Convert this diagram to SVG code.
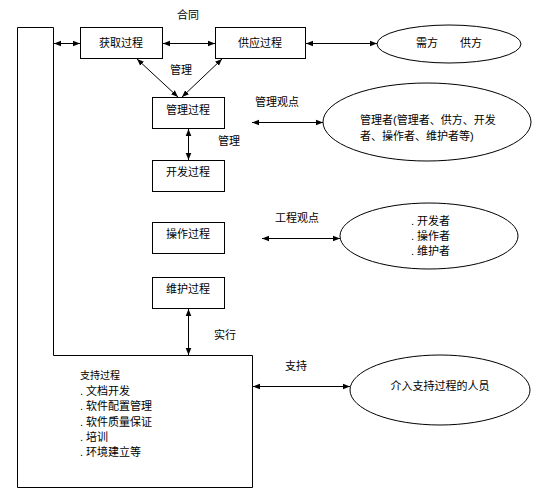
<svg xmlns="http://www.w3.org/2000/svg" width="551" height="496" viewBox="0 0 551 496">
<defs>
<marker id="ah" viewBox="0 0 10 10" refX="10" refY="5" markerWidth="7" markerHeight="7" orient="auto-start-reverse" markerUnits="userSpaceOnUse">
<path d="M0,1 L10,5 L0,9 Z" fill="#000"/>
</marker>
</defs>
<style>
.box{fill:#fff;stroke:#000;stroke-width:1}
.t{font-family:"Liberation Sans","Noto Sans CJK SC",sans-serif;font-size:11px;fill:#000}
.s{font-size:10px}
.c{stroke:#000;stroke-width:1;fill:none;marker-start:url(#ah);marker-end:url(#ah)}
</style>
<rect width="551" height="496" fill="#fff"/>
<g id="support">
<path class="box" d="M17.5,27.5 H53.5 V355.5 H252.5 V487.5 H17.5 Z"/>
<text class="t s" x="80" y="379">支持过程</text>
<text class="t" x="80" y="395">. 文档开发</text>
<text class="t" x="80" y="410">. 软件配置管理</text>
<text class="t" x="80" y="426">. 软件质量保证</text>
<text class="t" x="80" y="441">. 培训</text>
<text class="t" x="80" y="456">. 环境建立等</text>
</g>
<g id="acquire">
<rect class="box" x="80.5" y="27.5" width="82" height="31"/>
<text class="t" x="121" y="47" text-anchor="middle">获取过程</text>
</g>
<g id="supply">
<rect class="box" x="215.5" y="27.5" width="90" height="31"/>
<text class="t" x="260" y="47" text-anchor="middle">供应过程</text>
</g>
<g id="parties">
<ellipse class="box" cx="449" cy="44" rx="72" ry="19"/>
<text class="t" x="449" y="47" text-anchor="middle">需方　　供方</text>
</g>
<g id="manage">
<rect class="box" x="152.5" y="97.5" width="72" height="31"/>
<text class="t" x="188" y="114" text-anchor="middle">管理过程</text>
</g>
<g id="develop">
<rect class="box" x="152.5" y="160.5" width="72" height="31"/>
<text class="t" x="188" y="176" text-anchor="middle">开发过程</text>
</g>
<g id="operate">
<rect class="box" x="152.5" y="222.5" width="72" height="31"/>
<text class="t" x="188" y="238" text-anchor="middle">操作过程</text>
</g>
<g id="maintain">
<rect class="box" x="152.5" y="277.5" width="72" height="31"/>
<text class="t" x="188" y="293" text-anchor="middle">维护过程</text>
</g>
<g id="managers">
<ellipse class="box" cx="427" cy="122" rx="104" ry="39"/>
<text class="t" x="360" y="124">管理者(管理者、供方、开发</text>
<text class="t" x="360" y="140">者、操作者、维护者等)</text>
</g>
<g id="engineers">
<ellipse class="box" cx="429" cy="236" rx="89" ry="33"/>
<text class="t" x="411" y="225">. 开发者</text>
<text class="t" x="411" y="240">. 操作者</text>
<text class="t" x="411" y="255">. 维护者</text>
</g>
<g id="supporters">
<ellipse class="box" cx="440" cy="390" rx="90" ry="35"/>
<text class="t" x="440" y="390" text-anchor="middle">介入支持过程的人员</text>
</g>
<g id="connectors">
<line class="c" x1="54" y1="43.5" x2="80" y2="43.5"/>
<line class="c" x1="163" y1="43.5" x2="215" y2="43.5"/>
<line class="c" x1="306" y1="43.5" x2="377" y2="43.5"/>
<line class="c" x1="137" y1="59" x2="178" y2="97"/>
<line class="c" x1="222" y1="59" x2="182" y2="97"/>
<line class="c" x1="188.5" y1="129" x2="188.5" y2="160"/>
<line class="c" x1="252" y1="122.5" x2="323" y2="122.5"/>
<line class="c" x1="262" y1="238.5" x2="340" y2="238.5"/>
<line class="c" x1="188.5" y1="309" x2="188.5" y2="355"/>
<line class="c" x1="253" y1="386.5" x2="350" y2="386.5"/>
<text class="t" x="188" y="19" text-anchor="middle">合同</text>
<text class="t" x="181" y="74" text-anchor="middle">管理</text>
<text class="t" x="229" y="145" text-anchor="middle">管理</text>
<text class="t" x="277" y="106" text-anchor="middle">管理观点</text>
<text class="t" x="297" y="222" text-anchor="middle">工程观点</text>
<text class="t" x="225" y="339" text-anchor="middle">实行</text>
<text class="t" x="296" y="370" text-anchor="middle">支持</text>
</g>
</svg>
